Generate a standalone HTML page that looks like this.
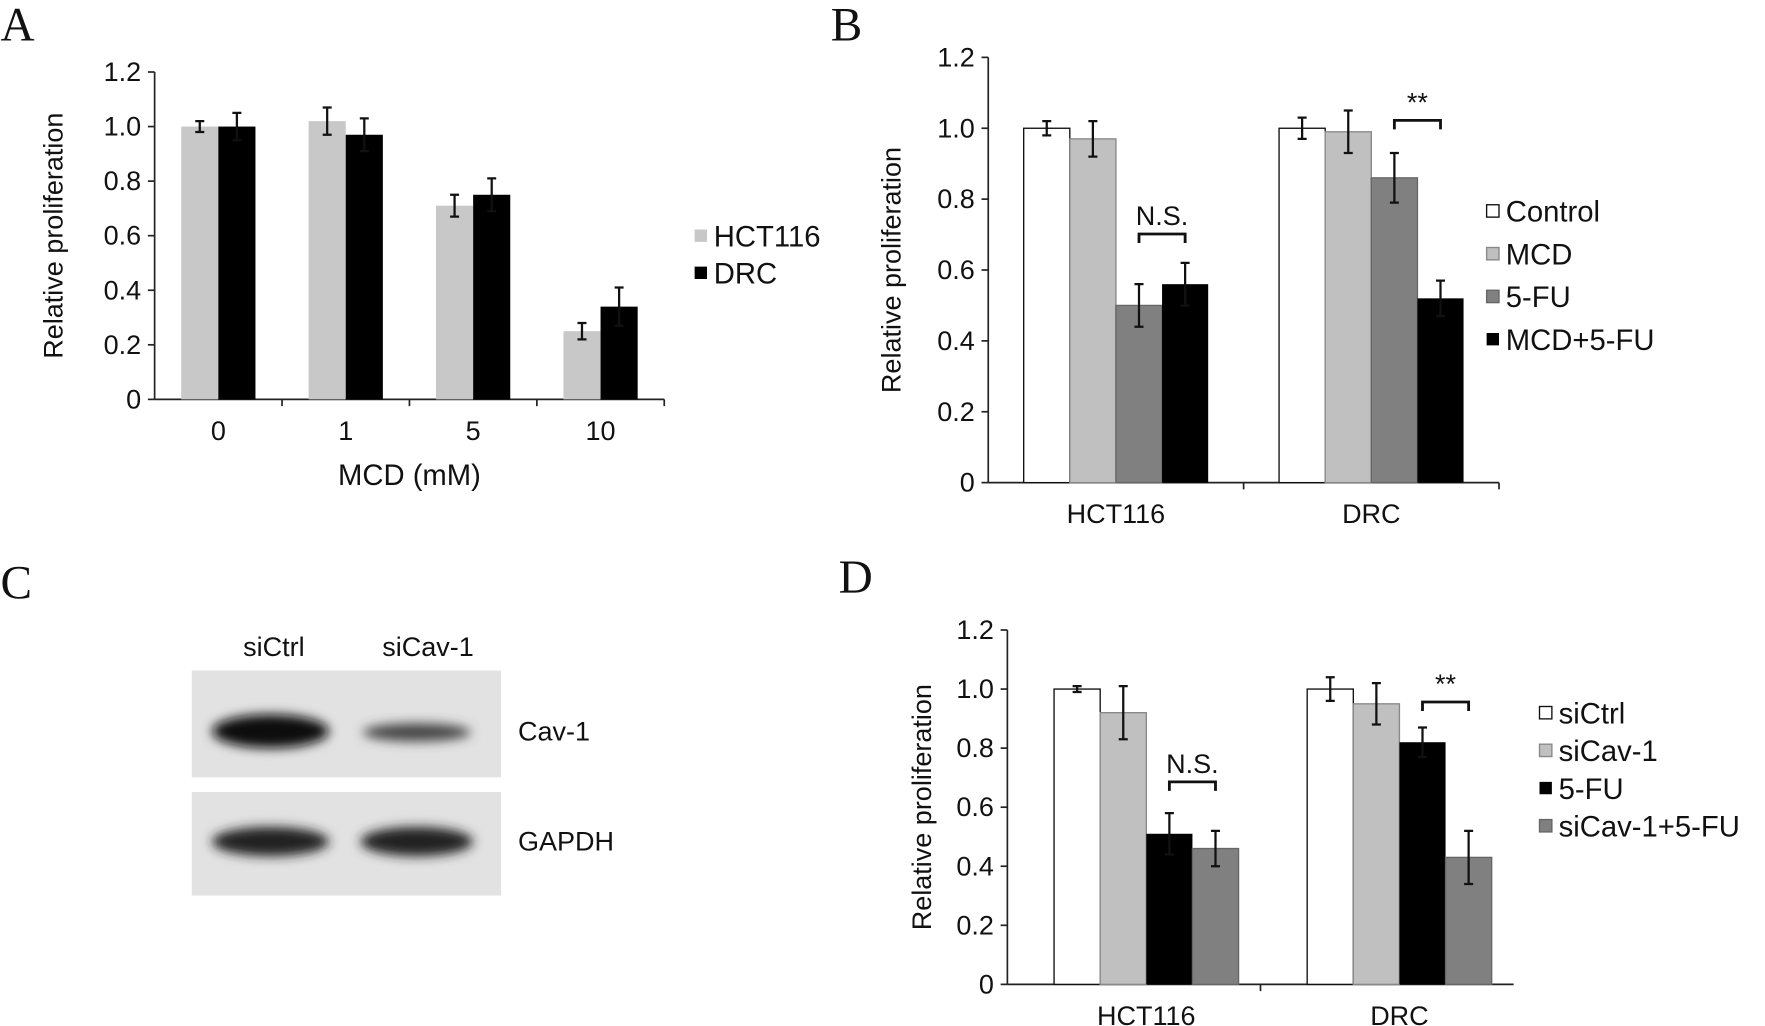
<!DOCTYPE html>
<html><head><meta charset="utf-8">
<style>
html,body{margin:0;padding:0;background:#fff;}
svg{display:block;font-family:"Liberation Sans",Arial,sans-serif;}
.t{font-size:24px;fill:#111;}
.L{font-family:"Liberation Serif",serif;font-size:42px;fill:#111;}
</style></head>
<body>
<svg id="fig" width="1765" height="1026" viewBox="0 0 1568 912">
<defs><filter id="blur" x="-30%" y="-60%" width="160%" height="220%"><feGaussianBlur stdDeviation="5"/></filter></defs>
<text class="L" x="0" y="36">A</text>
<text class="L" x="738" y="36">B</text>
<text class="L" x="0" y="532">C</text>
<text class="L" x="745" y="527">D</text>
<g>
<rect x="170" y="596" width="275" height="95" fill="#e2e2e2"/>
<rect x="170" y="704" width="275" height="92" fill="#e2e2e2"/>
<ellipse cx="240" cy="650" rx="52" ry="15" fill="#0a0a0a" filter="url(#blur)"/>
<ellipse cx="370" cy="651" rx="48" ry="8" fill="#444" filter="url(#blur)"/>
<ellipse cx="240" cy="748" rx="52" ry="13" fill="#222" filter="url(#blur)"/>
<ellipse cx="370" cy="748" rx="50" ry="13" fill="#222" filter="url(#blur)"/>
<text class="t" x="243" y="583" text-anchor="middle">siCtrl</text>
<text class="t" x="380" y="583" text-anchor="middle">siCav-1</text>
<text class="t" x="460" y="658">Cav-1</text>
<text class="t" x="460" y="756">GAPDH</text>
</g>
</svg>
<script>
const aCats=["0","1","5","10"];
const aHct=[1.0,1.02,0.71,0.25];
const aHctErr=[0.02,0.05,0.04,0.03];
const aDrc=[1.0,0.97,0.75,0.34];
const aDrcErr=[0.05,0.06,0.06,0.07];
const bCats=["HCT116","DRC"];
const bControl=[1.0,1.0],bControlErr=[0.02,0.03];
const bMcd=[0.97,0.99],bMcdErr=[0.05,0.06];
const b5fu=[0.50,0.86],b5fuErr=[0.06,0.07];
const bCombo=[0.56,0.52],bComboErr=[0.06,0.05];
const dCats=["HCT116","DRC"];
const dSictrl=[1.0,1.0],dSictrlErr=[0.01,0.04];
const dSicav=[0.92,0.95],dSicavErr=[0.09,0.07];
const d5fu=[0.51,0.82],d5fuErr=[0.07,0.05];
const dCombo=[0.46,0.43],dComboErr=[0.06,0.09];
const yTicks=[0,0.2,0.4,0.6,0.8,1.0,1.2];
const yTickLabels=["0","0.2","0.4","0.6","0.8","1.0","1.2"];

const NS="http://www.w3.org/2000/svg",svg=document.getElementById('fig');
function el(t,a,p){const e=document.createElementNS(NS,t);for(const k in a)e.setAttribute(k,a[k]);(p||svg).appendChild(e);return e;}
function txt(s,a,p){const e=el('text',a,p);e.textContent=s;return e;}

function panel(cfg){
  const g=el('g',{});
  
  
  const sh=cfg.shift||0;
  const y=v=>cfg.y0-(v/1.2)*(cfg.y0-cfg.y1);
  const ax=el('line',{x1:cfg.ax,x2:cfg.ax,y1:cfg.y1,y2:cfg.y0,stroke:'#222','stroke-width':1.5},g);
  
  const xa=el('line',{x1:cfg.ax,x2:cfg.xEnd,y1:cfg.y0,y2:cfg.y0,stroke:'#222','stroke-width':1.5},g);
  
  yTicks.forEach((v,i)=>{
    el('line',{x1:cfg.ax-6,x2:cfg.ax,y1:y(v),y2:y(v),stroke:'#222','stroke-width':1.5},g);
    const t=txt(yTickLabels[i],{class:'t',x:cfg.ax-12,y:y(v)+8,'text-anchor':'end'},g);
    
  });
  const yl=txt('Relative proliferation',{class:'t',transform:`translate(${cfg.ylx},${(cfg.y0+cfg.y1)/2}) rotate(-90)`,'text-anchor':'middle'},g);
  
  const n=cfg.cats.length,step=(cfg.xEnd-cfg.ax)/n;
  cfg.cats.forEach((c,i)=>{
    const cx=cfg.ax+step*(i+0.5)+sh;
    if(i<n-1||!sh) el('line',{x1:cfg.ax+step*(i+1),x2:cfg.ax+step*(i+1),y1:cfg.y0,y2:cfg.y0+6,stroke:'#222','stroke-width':1.5},g);
    const t=txt(c,{class:'t',x:cx,y:cfg.y0+36,'text-anchor':'middle'},g);
    
    const ns=cfg.series.length;
    cfg.series.forEach((s,j)=>{
      const bx=cx-ns*cfg.bw/2+j*cfg.bw,v=s.vals[i],e=s.err[i];
      const r=el('rect',{x:bx,y:y(v),width:cfg.bw,height:cfg.y0-y(v),fill:s.color,stroke:s.stroke||'none','stroke-width':1.2},g);
      
      const m=bx+cfg.bw/2;
      const eb=el('path',{d:`M${m},${y(v+e)}V${y(v-e)}M${m-4},${y(v+e)}H${m+4}M${m-4},${y(v-e)}H${m+4}`,stroke:'#111','stroke-width':2,fill:'none'},g);
      
    });
  });
  cfg.brackets&&cfg.brackets.forEach(b=>{
    const cx=cfg.ax+step*(b.cat+0.5)+sh,ns=cfg.series.length;
    const x1=cx-ns*cfg.bw/2+(b.s1+0.5)*cfg.bw,x2=cx-ns*cfg.bw/2+(b.s2+0.5)*cfg.bw;
    const p=el('path',{d:`M${x1},${b.y+8}V${b.y}H${x2}V${b.y+8}`,stroke:'#111','stroke-width':2.5,fill:'none'},g);
    
    const t=txt(b.label,{class:'t',x:(x1+x2)/2,y:b.y-8,'text-anchor':'middle'},g);
    
  });
  cfg.series.forEach((s,j)=>{
    const ly=cfg.legY+j*cfg.legDy;
    const r=el('rect',{x:cfg.legX,y:ly-6,width:11,height:11,fill:s.color,stroke:s.stroke||'none','stroke-width':1.2},g);
    
    const t=txt(s.label,{class:'t',x:cfg.legX+17,y:ly+9,style:'font-size:26px'},g);
    
  });
  if(cfg.xTitle){const t=txt(cfg.xTitle,{class:'t',x:(cfg.ax+cfg.xEnd)/2,y:cfg.y0+76,'text-anchor':'middle',style:'font-size:26px'},g);
    }
}
panel({name:'panel-a-chart',ax:137,xEnd:590,y0:355,y1:64,ylx:55,bw:33,cats:aCats,xTitle:'MCD (mM)',legX:617,legY:210,legDy:33,
 series:[{key:'hct116',label:'HCT116',vals:aHct,err:aHctErr,color:'#c8c8c8'},{key:'drc',label:'DRC',vals:aDrc,err:aDrcErr,color:'#000'}]});
panel({name:'panel-b-chart',ax:878,xEnd:1332,y0:429,y1:51,ylx:800,bw:41,cats:bCats,legX:1321,legY:188,legDy:38,
 series:[{key:'control',label:'Control',vals:bControl,err:bControlErr,color:'#fff',stroke:'#111'},
 {key:'mcd',label:'MCD',vals:bMcd,err:bMcdErr,color:'#c0c0c0',stroke:'#888'},
 {key:'5fu',label:'5-FU',vals:b5fu,err:b5fuErr,color:'#808080',stroke:'#666'},
 {key:'mcd-5fu',label:'MCD+5-FU',vals:bCombo,err:bComboErr,color:'#000'}],
 brackets:[{cat:0,s1:2,s2:3,y:208,label:'N.S.'},{cat:1,s1:2,s2:3,y:107,label:'**'}]});
panel({name:'panel-d-chart',ax:895,xEnd:1345,y0:875,y1:560,ylx:827,bw:41,shift:11,cats:dCats,legX:1368,legY:634,legDy:33.5,
 series:[{key:'sictrl',label:'siCtrl',vals:dSictrl,err:dSictrlErr,color:'#fff',stroke:'#111'},
 {key:'sicav1',label:'siCav-1',vals:dSicav,err:dSicavErr,color:'#c0c0c0',stroke:'#888'},
 {key:'5fu',label:'5-FU',vals:d5fu,err:d5fuErr,color:'#000'},
 {key:'sicav1-5fu',label:'siCav-1+5-FU',vals:dCombo,err:dComboErr,color:'#808080',stroke:'#666'}],
 brackets:[{cat:0,s1:2,s2:3,y:695,label:'N.S.'},{cat:1,s1:2,s2:3,y:624,label:'**'}]});
</script>
</body></html>
